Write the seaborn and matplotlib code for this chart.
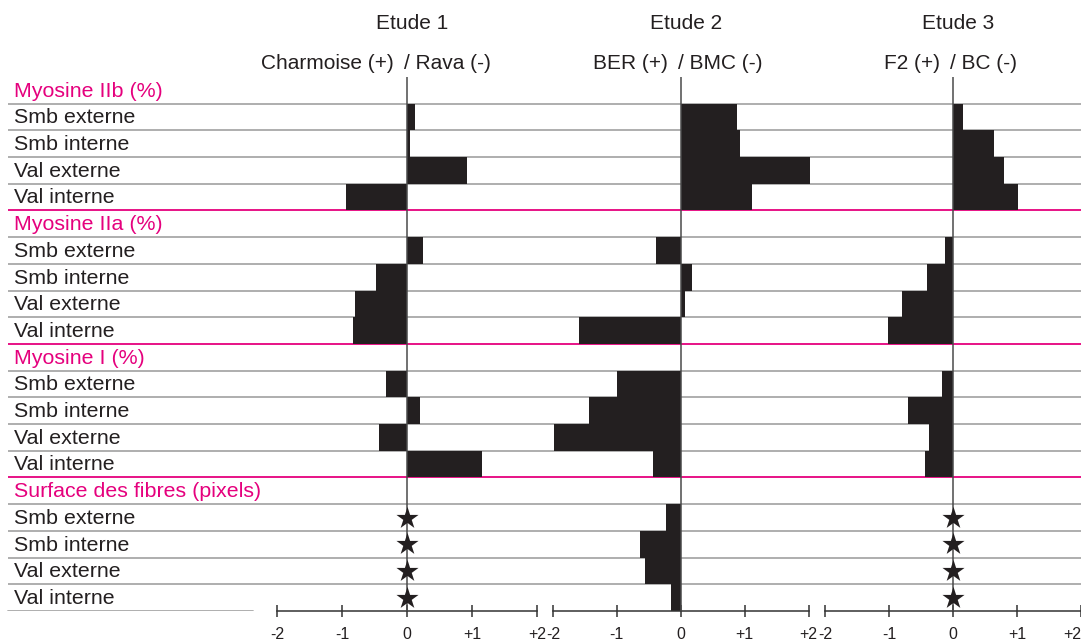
"""
Profils myosine / surface des fibres - trois etudes
"""
import numpy as np
import pandas as pd
import matplotlib
matplotlib.use('Agg')
import matplotlib.pyplot as plt
import seaborn as sns

# Data
groups = ["Myosine IIb (%)", "Myosine IIa (%)", "Myosine I (%)", "Surface des fibres (pixels)"]
muscles = ["Smb externe", "Smb interne", "Val externe", "Val interne"]
etudes = ["Etude 1", "Etude 2", "Etude 3"]
plus_labels = ["Charmoise (+)", "BER (+)", "F2 (+)"]
minus_labels = ["/ Rava (-)", "/ BMC (-)", "/ BC (-)"]

# one value per muscle, groups in order; nan = star (no bar)
etude1 = [0.12, 0.04, 0.93, -0.94,
          0.24, -0.48, -0.80, -0.83,
          -0.32, 0.20, -0.43, 1.15,
          np.nan, np.nan, np.nan, np.nan]
etude2 = [0.88, 0.93, 2.03, 1.11,
          -0.39, 0.17, 0.07, -1.59,
          -1.00, -1.44, -1.98, -0.43,
          -0.23, -0.64, -0.56, -0.15]
etude3 = [0.15, 0.64, 0.80, 1.02,
          -0.12, -0.40, -0.79, -1.02,
          -0.17, -0.71, -0.38, -0.43,
          np.nan, np.nan, np.nan, np.nan]

tick_vals = [-2, -1, 0, 1, 2]
tick_labels = ["-2", "-1", "0", "+1", "+2"]

sns.set_style("white")
plt.rcParams['font.family'] = ['Liberation Sans', 'DejaVu Sans']

MAGENTA = '#e5007d'
GREY = '#a8a8a8'
DARK = '#231f20'
W, H = 1081, 642
n_rows = len(groups) * (len(muscles) + 1)

# rows table: header rows + muscle rows (idx = -1 for headers)
rows = []
for g, grp in enumerate(groups):
    rows.append({'row': g * 5, 'label': grp, 'header': True, 'idx': -1})
    for m, mus in enumerate(muscles):
        rows.append({'row': g * 5 + m + 1, 'label': mus, 'header': False, 'idx': g * 4 + m})
rows = pd.DataFrame(rows)

fig = plt.figure(figsize=(W / 100, H / 100), dpi=100)
top_px, bot_px = 77, 611
ax_y = (H - bot_px) / H
ax_h = (bot_px - top_px) / H

# background: row lines and labels
bg = fig.add_axes([0, ax_y, 1, ax_h], zorder=0)
bg.set_xlim(0, W)
bg.set_ylim(n_rows - 0.5, -0.5)
bg.axis('off')
for k in range(n_rows - 1):
    col = MAGENTA if (k + 1) % 5 == 0 else GREY
    bg.plot([8, W], [k + 0.5, k + 0.5], color=col, lw=1.3, solid_capstyle='butt')
bg.plot([8, 253], [n_rows - 0.5, n_rows - 0.5], color=GREY, lw=1.3)
for _, r in rows.iterrows():
    bg.text(14, r['row'] + 0.03, r['label'], va='center', ha='left', fontsize=15.4,
            color=MAGENTA if r['header'] else '#231f20')

# panels
panel_px = [(277, 537), (553, 808.5), (825, 1081)]
for p, vals in enumerate([etude1, etude2, etude3]):
    x0, x1 = panel_px[p]
    ax = fig.add_axes([x0 / W, ax_y, (x1 - x0) / W, ax_h], zorder=1)
    ax.patch.set_alpha(0)

    df = rows.copy()
    df['value'] = [0.0 if i < 0 else vals[i] for i in rows['idx'].astype(int)]
    df['star'] = df['value'].isna()
    df['value'] = df['value'].fillna(0.0)

    sns.barplot(data=df, x='value', y='row', orient='h', order=list(range(n_rows)),
                width=1, color=DARK, saturation=1, errorbar=None, linewidth=0, ax=ax)
    for bar in ax.patches:
        bar.set_clip_on(False)

    stars = df[df['star']]
    if len(stars):
        ax.scatter(np.zeros(len(stars)), stars['row'], marker='*', s=280,
                   color=DARK, linewidths=0, zorder=5, clip_on=False)

    ax.axvline(0, color='#4a4a4a', lw=1.1, zorder=4)
    ax.set_xlim(-2, 2)
    ax.set_ylim(n_rows - 0.5, -0.5)
    ax.set_yticks([])
    ax.set_xlabel('')
    ax.set_ylabel('')
    ax.set_xticks(tick_vals)
    ax.set_xticklabels(tick_labels)
    ax.tick_params(axis='x', bottom=True, direction='inout', length=8, width=1.1,
                   color='#333333', labelsize=11.5, pad=7.5, labelcolor='#231f20')
    if p == 2:
        ax.get_xticklabels()[-1].set_horizontalalignment('right')
    for side in ['top', 'left', 'right']:
        ax.spines[side].set_visible(False)
    ax.spines['bottom'].set_color('#333333')
    ax.spines['bottom'].set_linewidth(1.1)

    tr = ax.get_xaxis_transform()
    ax.text(0.08, 1.101, etudes[p], transform=tr, ha='center', va='center', fontsize=15,
            color='#231f20')
    ax.text(-0.2, 1.026, plus_labels[p], transform=tr, ha='right', va='center',
            fontsize=15, color='#231f20')
    ax.text(-0.04, 1.026, minus_labels[p], transform=tr, ha='left', va='center',
            fontsize=15, color='#231f20')

plt.savefig('out.png', dpi=100)
plt.close()
